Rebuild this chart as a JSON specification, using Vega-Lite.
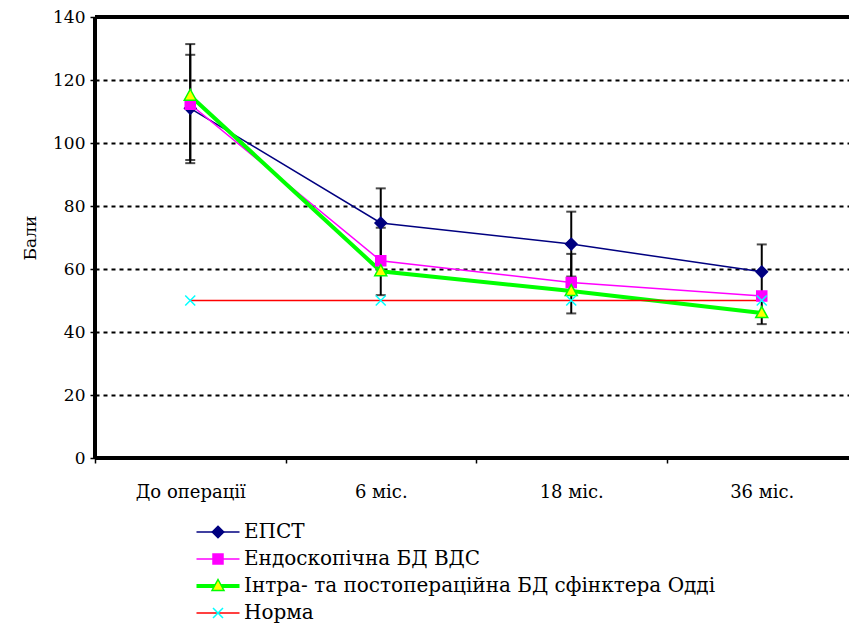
{
  "$schema": "https://vega.github.io/schema/vega-lite/v6.json",
  "width": 754,
  "height": 441,
  "autosize": {"type": "none"},
  "padding": {"left": 95, "top": 17, "right": 0, "bottom": 165},
  "background": "white",
  "config": {
    "font": "DejaVu Serif",
    "view": {"stroke": null},
    "axis": {
      "labelFont": "DejaVu Serif",
      "titleFont": "DejaVu Serif",
      "labelColor": "black",
      "titleColor": "black",
      "labelFontSize": 17,
      "titleFontSize": 17,
      "titleFontWeight": "normal",
      "domainColor": "black",
      "domainWidth": 3,
      "tickColor": "black",
      "zindex": 0
    },
    "axisX": {"domainColor": "black", "domainWidth": 3, "labelFontSize": 18},
    "axisY": {"domainColor": "black", "domainWidth": 3},
    "legend": {
      "labelFont": "DejaVu Serif",
      "labelFontSize": 20,
      "labelColor": "black",
      "labelLimit": 0,
      "padding": 0,
      "rowPadding": 7,
      "symbolSize": 100,
      "labelOffset": 16,
      "columns": 1
    }
  },
  "datasets": {
    "lines": [
      {"s": "ЕПСТ", "t": "До операції", "v": 111},
      {"s": "ЕПСТ", "t": "6 міс.", "v": 74.6},
      {"s": "ЕПСТ", "t": "18 міс.", "v": 67.9},
      {"s": "ЕПСТ", "t": "36 міс.", "v": 59.1},
      {"s": "Ендоскопічна БД ВДС", "t": "До операції", "v": 112.3},
      {"s": "Ендоскопічна БД ВДС", "t": "6 міс.", "v": 62.6},
      {"s": "Ендоскопічна БД ВДС", "t": "18 міс.", "v": 55.7},
      {"s": "Ендоскопічна БД ВДС", "t": "36 міс.", "v": 51.4},
      {"s": "Інтра- та постопераційна БД сфінктера Одді", "t": "До операції", "v": 115},
      {"s": "Інтра- та постопераційна БД сфінктера Одді", "t": "6 міс.", "v": 59.3},
      {"s": "Інтра- та постопераційна БД сфінктера Одді", "t": "18 міс.", "v": 53.0},
      {"s": "Інтра- та постопераційна БД сфінктера Одді", "t": "36 міс.", "v": 46.0},
      {"s": "Норма", "t": "До операції", "v": 50},
      {"s": "Норма", "t": "6 міс.", "v": 50},
      {"s": "Норма", "t": "18 міс.", "v": 50},
      {"s": "Норма", "t": "36 міс.", "v": 50}
    ],
    "bars": [
      {"t": "До операції", "lo": 93.6, "hi": 131.4},
      {"t": "До операції", "lo": 94.6, "hi": 128},
      {"t": "6 міс.", "lo": 63.6, "hi": 85.6},
      {"t": "6 міс.", "lo": 51.7, "hi": 73.1},
      {"t": "18 міс.", "lo": 57.6, "hi": 78.2},
      {"t": "18 міс.", "lo": 45.9, "hi": 64.8},
      {"t": "36 міс.", "lo": 42.5, "hi": 67.8}
    ]
  },
  "layer": [
    {
      "data": {"name": "bars"},
      "mark": {"type": "rule", "color": "black", "strokeWidth": 2},
      "encoding": {
        "x": {
          "field": "t", "type": "nominal",
          "sort": ["До операції", "6 міс.", "18 міс.", "36 міс."],
          "scale": {"type": "band", "paddingInner": 0, "paddingOuter": 0, "range": [0, 762]},
          "axis": {
            "title": null,
            "labelAngle": 0,
            "tickBand": "extent",
            "tickSize": 5,
            "tickWidth": 1.5,
            "domainWidth": 3,
            "domainColor": "black",
            "labelPadding": 20,
            "grid": false,
            "zindex": 0
          }
        },
        "y": {
          "field": "lo", "type": "quantitative",
          "scale": {"domain": [0, 140], "nice": false},
          "axis": {
            "title": "Бали",
            "values": [0, 20, 40, 60, 80, 100, 120, 140],
            "tickSize": 5,
            "tickWidth": 1.5,
            "domainWidth": 3,
            "domainColor": "black",
            "labelPadding": 5,
            "titlePadding": 13,
            "grid": true,
            "gridColor": "black",
            "gridWidth": 2,
            "gridDash": [4, 4],
            "zindex": 0
          }
        },
        "y2": {"field": "hi"}
      }
    },
    {
      "data": {"name": "bars"},
      "mark": {"type": "tick", "color": "black", "thickness": 2, "size": 10},
      "encoding": {
        "x": {"field": "t", "type": "nominal", "sort": ["До операції", "6 міс.", "18 міс.", "36 міс."]},
        "y": {"field": "lo", "type": "quantitative"}
      }
    },
    {
      "data": {"name": "bars"},
      "mark": {"type": "tick", "color": "black", "thickness": 2, "size": 10},
      "encoding": {
        "x": {"field": "t", "type": "nominal", "sort": ["До операції", "6 міс.", "18 міс.", "36 міс."]},
        "y": {"field": "hi", "type": "quantitative"}
      }
    },
    {
      "data": {"name": "lines"},
      "mark": {"type": "rule", "color": "black", "strokeWidth": 3},
      "encoding": {"y": {"datum": 140, "type": "quantitative"}}
    },
    {
      "data": {"name": "lines"},
      "mark": {"type": "rule", "color": "black", "strokeWidth": 3},
      "encoding": {"y": {"datum": 0, "type": "quantitative"}}
    },
    {
      "data": {"name": "lines"},
      "mark": {"type": "rule", "color": "black", "strokeWidth": 3},
      "encoding": {"x": {"datum": "До операції", "type": "nominal", "bandPosition": 0}}
    },
    {
      "data": {"name": "lines"},
      "mark": {"type": "line"},
      "encoding": {
        "x": {"field": "t", "type": "nominal", "sort": ["До операції", "6 міс.", "18 міс.", "36 міс."]},
        "y": {"field": "v", "type": "quantitative"},
        "stroke": {
          "field": "s", "type": "nominal",
          "scale": {
            "domain": ["ЕПСТ", "Ендоскопічна БД ВДС", "Інтра- та постопераційна БД сфінктера Одді", "Норма"],
            "range": ["#000080", "#FF00FF", "#00FF00", "#FF0000"]
          },
          "legend": {
            "title": null,
            "orient": "none",
            "legendX": 113,
            "legendY": 505,
            "symbolType": "M-4.3,0H4.3"
          }
        },
        "strokeWidth": {
          "field": "s", "type": "ordinal",
          "scale": {
            "type": "ordinal",
            "domain": ["ЕПСТ", "Ендоскопічна БД ВДС", "Інтра- та постопераційна БД сфінктера Одді", "Норма"],
            "range": [1.5, 1.5, 4, 1.5]
          }
        }
      }
    },
    {
      "data": {"name": "lines"},
      "mark": {"type": "point", "filled": true, "size": 100, "strokeWidth": 1.5, "opacity": 1},
      "encoding": {
        "x": {"field": "t", "type": "nominal", "sort": ["До операції", "6 міс.", "18 міс.", "36 міс."]},
        "y": {"field": "v", "type": "quantitative"},
        "shape": {
          "field": "s", "type": "nominal",
          "scale": {
            "domain": ["ЕПСТ", "Ендоскопічна БД ВДС", "Інтра- та постопераційна БД сфінктера Одді", "Норма"],
            "range": ["M0,-1.15L1.15,0L0,1.15L-1.15,0Z", "M-1,-1H1V1H-1Z", "M0,-1.3L1.2,0.9H-1.2Z", "M-1,-1L1,1M-1,1L1,-1"]
          },
          "legend": {
            "title": null,
            "orient": "none",
            "legendX": 113,
            "legendY": 505,
            "labelOpacity": 0,
            "symbolStrokeWidth": 1.5
          }
        },
        "fill": {
          "field": "s", "type": "nominal",
          "scale": {
            "domain": ["ЕПСТ", "Ендоскопічна БД ВДС", "Інтра- та постопераційна БД сфінктера Одді", "Норма"],
            "range": ["#000080", "#FF00FF", "#FFFF00", "transparent"]
          }
        },
        "stroke": {
          "field": "s", "type": "nominal",
          "scale": {
            "domain": ["ЕПСТ", "Ендоскопічна БД ВДС", "Інтра- та постопераційна БД сфінктера Одді", "Норма"],
            "range": ["#000080", "#FF00FF", "#00FF00", "#00FFFF"]
          }
        }
      }
    }
  ],
  "resolve": {
    "scale": {"stroke": "independent", "fill": "independent", "shape": "independent", "strokeWidth": "independent"}
  }
}
